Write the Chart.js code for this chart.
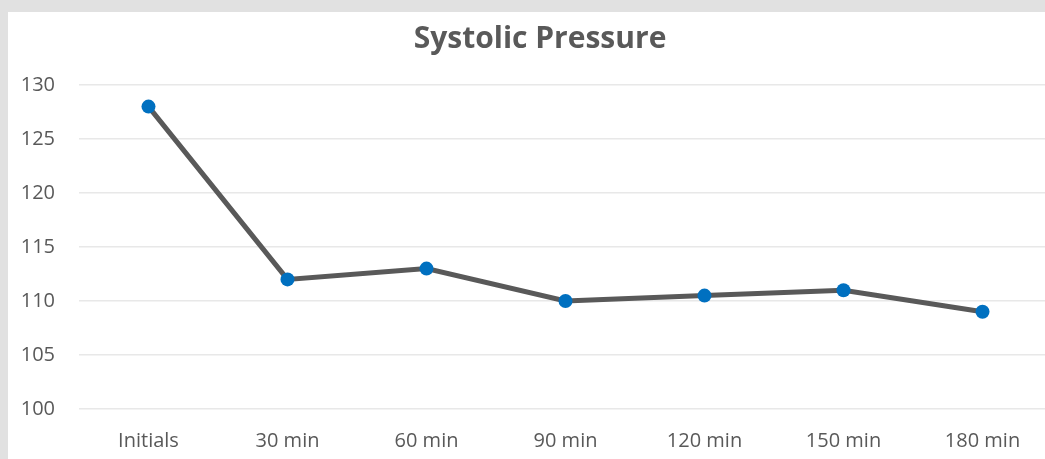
<!DOCTYPE html>
<html>
<head>
<meta charset="utf-8">
<script src="https://cdn.jsdelivr.net/npm/chart.js@4/dist/chart.umd.min.js"></script>
<style>
  html, body { margin: 0; padding: 0; background: #e1e1e1; overflow: hidden; }
  #wrap { position: absolute; left: 8px; top: 12px; width: 1064px; height: 447px; background: #fff; }
</style>
</head>
<body>
<div id="wrap"><canvas id="chart" width="1064" height="447"></canvas></div>
<script>
var categories = ['Initials', '30 min', '60 min', '90 min', '120 min', '150 min', '180 min'];
var systolic = [128, 112, 113, 110, 110.5, 111, 109];
var yTicks = [100, 105, 110, 115, 120, 125, 130];

var textGrey = '#595959';
var fontName = "'Open Sans', sans-serif";

var ctx = document.getElementById('chart').getContext('2d');
var myChart = new Chart(ctx, {
    type: 'line',
    data: {
        labels: categories,
        datasets: [{
            data: systolic,
            borderColor: '#595959',
            borderWidth: 5,
            pointBackgroundColor: '#0070c0',
            pointBorderColor: '#0070c0',
            pointRadius: 7,
            pointBorderWidth: 0,
            tension: 0
        }]
    },
    options: {
        responsive: false,
        animation: false,
        layout: { padding: 0 },
        plugins: {
            legend: { display: false },
            tooltip: { enabled: false },
            title: {
                display: true,
                text: 'Systolic Pressure',
                color: textGrey,
                font: { family: fontName, size: 30, weight: 'bold' },
                padding: { top: 9, bottom: 28 }
            }
        },
        scales: {
            x: {
                offset: true,
                grid: { display: false, drawTicks: false },
                border: { display: false },
                ticks: { color: textGrey, font: { family: fontName, size: 20 }, padding: 20, maxRotation: 0 },
                afterFit: function(scale) { scale.height = 50; }
            },
            y: {
                min: yTicks[0],
                max: yTicks[yTicks.length - 1],
                grid: { color: '#e8e8e8', lineWidth: 1.5, drawTicks: false },
                border: { display: false },
                afterBuildTicks: function(scale) {
                    scale.ticks = yTicks.map(function(v) { return { value: v }; });
                },
                ticks: { color: textGrey, font: { family: fontName, size: 20 }, padding: 24 },
                afterFit: function(scale) { scale.width = 71; }
            },
            // empty right-hand spacer so the title stays centred on the full card
            spacer: {
                type: 'linear',
                position: 'right',
                grid: { display: false, drawTicks: false },
                border: { display: false },
                ticks: { display: false },
                afterFit: function(scale) { scale.width = 20; }
            }
        }
    }
});
</script>
</body>
</html>
